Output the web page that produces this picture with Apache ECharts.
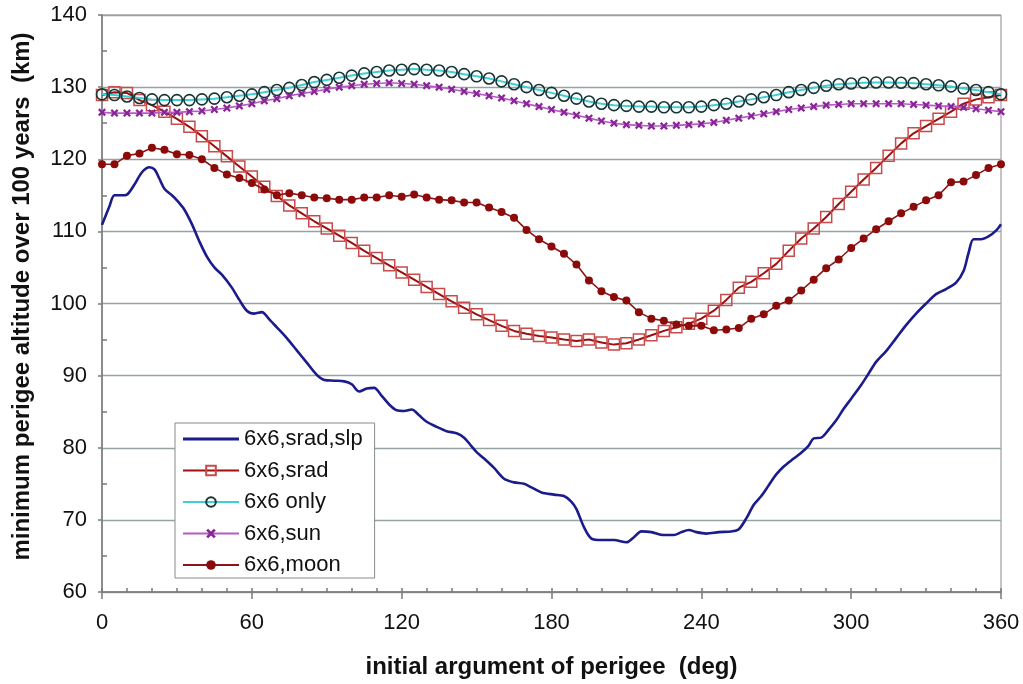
<!DOCTYPE html>
<html>
<head>
<meta charset="utf-8">
<script src="https://cdn.jsdelivr.net/npm/echarts@6/dist/echarts.min.js"></script>
<style>
html,body{margin:0;padding:0;background:#fff;}
#chart{width:1023px;height:684px;}
</style>
</head>
<body>
<div id="chart"></div>
<script>
// x positions (deg) for the marker series
const degrees = [0,5,10,15,20,25,30,35,40,45,50,55,60,65,70,75,80,85,90,95,100,105,110,115,120,125,130,135,140,145,150,155,160,165,170,175,180,185,190,195,200,205,210,215,220,225,230,235,240,245,250,255,260,265,270,275,280,285,290,295,300,305,310,315,320,325,330,335,340,345,350,355,360];

const sradVals = [128.9,129.3,129.2,128.2,127.5,126.6,125.6,124.5,123.2,121.8,120.4,119.0,117.6,116.2,114.9,113.6,112.5,111.4,110.4,109.4,108.4,107.3,106.3,105.3,104.3,103.3,102.3,101.3,100.3,99.4,98.5,97.7,96.9,96.2,95.8,95.5,95.3,95.0,94.8,95.0,94.6,94.3,94.5,95.0,95.6,96.2,96.7,97.2,97.9,99.0,100.5,102.2,103.0,104.2,105.5,107.3,109.0,110.4,112.0,113.8,115.5,117.2,118.8,120.5,122.2,123.6,124.6,125.6,126.6,127.7,128.3,128.6,128.9];

const onlyVals = [129.0,128.9,128.7,128.5,128.3,128.2,128.2,128.2,128.3,128.4,128.6,128.8,129.0,129.3,129.6,129.9,130.3,130.7,131.0,131.3,131.6,131.9,132.1,132.3,132.4,132.5,132.4,132.3,132.1,131.8,131.5,131.2,130.8,130.4,130.0,129.6,129.2,128.8,128.4,128.0,127.7,127.5,127.4,127.3,127.3,127.2,127.2,127.2,127.3,127.5,127.7,128.0,128.3,128.6,128.9,129.3,129.6,129.9,130.2,130.4,130.5,130.6,130.65,130.65,130.6,130.55,130.4,130.25,130.1,129.8,129.6,129.3,129.0];

const sunVals = [126.5,126.4,126.4,126.4,126.4,126.5,126.5,126.6,126.7,126.9,127.1,127.4,127.7,128.1,128.4,128.8,129.1,129.4,129.7,130.0,130.2,130.4,130.5,130.6,130.5,130.4,130.2,130.0,129.7,129.4,129.1,128.8,128.5,128.1,127.7,127.3,126.9,126.5,126.1,125.7,125.3,125.0,124.8,124.7,124.6,124.6,124.7,124.8,124.9,125.1,125.4,125.7,126.0,126.3,126.6,126.9,127.1,127.3,127.5,127.6,127.7,127.7,127.7,127.7,127.7,127.6,127.5,127.4,127.3,127.2,127.0,126.8,126.6];

const moonVals = [119.3,119.3,120.5,120.8,121.6,121.3,120.7,120.6,120.0,118.8,117.9,117.4,116.7,115.8,115.0,115.3,115.0,114.7,114.6,114.4,114.4,114.7,114.7,115.0,114.8,115.1,114.7,114.4,114.3,114.0,114.0,113.3,112.7,111.9,110.2,108.9,107.9,106.9,105.4,103.2,101.7,100.9,100.4,98.8,97.9,97.6,97.1,96.9,96.9,96.3,96.4,96.6,97.9,98.5,99.7,100.4,101.8,103.3,104.9,106.1,107.7,109.0,110.3,111.4,112.5,113.4,114.3,115.0,116.8,116.9,117.8,118.8,119.3];

// "6x6,srad,slp" curve, read at irregular angles
const slpDeg = [0,3,5,8,10,13,16,19,21,23,25,28,30,33,36,39,42,45,48,52,55,58,61,64,67,70,74,78,82,86,89,93,97,100,103,106,109,112,115,118,121,124,127,130,134,138,142,145,148,150,153,157,161,165,169,172,176,181,185,188,190,193,196,200,205,210,213,216,220,225,229,232,235,238,242,247,252,255,258,261,264,267,270,273,277,280,283,285,288,291,294,297,300,304,307,310,314,318,322,326,330,334,338,342,345,347,349,352,355,358,360];
const slpVals = [110.9,113.5,115.0,115.0,115.1,116.5,118.2,118.9,118.6,117.3,115.9,115.0,114.3,113.0,111.0,108.6,106.5,105.0,104.0,102.2,100.5,99.0,98.6,98.8,97.8,96.7,95.2,93.5,91.8,90.1,89.4,89.3,89.2,88.8,87.8,88.2,88.3,87.2,86.0,85.2,85.1,85.3,84.5,83.6,82.9,82.3,82.0,81.4,80.2,79.4,78.5,77.2,75.7,75.2,75.0,74.5,73.8,73.5,73.3,72.5,71.5,69.0,67.4,67.2,67.2,66.9,67.6,68.4,68.3,67.9,67.9,68.3,68.6,68.3,68.1,68.3,68.4,68.7,70.2,72.1,73.3,74.8,76.3,77.4,78.5,79.3,80.3,81.3,81.4,82.5,83.8,85.4,86.8,88.7,90.3,91.9,93.4,95.2,97.0,98.6,100.0,101.3,102.0,102.9,104.5,107.0,108.9,108.9,109.3,110.1,111.0];

const seriesNames = ['6x6,srad,slp','6x6,srad','6x6 only','6x6,sun','6x6,moon'];
const xTickValues = [0,60,120,180,240,300,360];
const yTickValues = [60,70,80,90,100,110,120,130,140];

function pairs(xs, ys){ return xs.map((x,i)=>[x, ys[i]]); }

const FONT = '"Liberation Sans", Arial, sans-serif';
const xMark = 'path://M0,2 L2,0 L5,3 L8,0 L10,2 L7,5 L10,8 L8,10 L5,7 L2,10 L0,8 L3,5 Z';
// plain line legend icon (bounding box 56x12, bar in the middle)
const lineIcon = 'path://M0,0 L0.01,0 L0.01,0.01 Z M0,4.6 L56,4.6 L56,7.4 L0,7.4 Z M0,12 L0.01,12 L0.01,11.99 Z';

const chart = echarts.init(document.getElementById('chart'), null, {renderer:'canvas'});
chart.setOption({
  animation:false,
  backgroundColor:'#ffffff',
  textStyle:{fontFamily:FONT},
  grid:{left:102,right:22,top:15,bottom:90,show:true,borderColor:'#8a8a8a',borderWidth:1,backgroundColor:'transparent'},
  legend:{
    orient:'vertical',left:175,top:423,
    backgroundColor:'#ffffff',borderColor:'#8a8a8a',borderWidth:1,
    padding:[4,12,1,7],
    itemWidth:56,itemHeight:12,itemGap:7.5,
    textStyle:{fontFamily:FONT,fontSize:22,lineHeight:24,color:'#111'},
    data:[{name:seriesNames[0],icon:lineIcon},seriesNames[1],seriesNames[2],seriesNames[3],seriesNames[4]]
  },
  xAxis:[{
    type:'value',min:xTickValues[0],max:xTickValues[xTickValues.length-1],interval:60,
    position:'bottom',
    axisLine:{show:true,lineStyle:{color:'#7a7a7a',width:1.5}},
    axisTick:{show:true,inside:false,length:7,lineStyle:{color:'#7a7a7a',width:1.5}},
    axisLabel:{fontFamily:FONT,fontSize:22,color:'#111',margin:20},
    splitLine:{show:false},
    name:'initial argument of perigee  (deg)',nameLocation:'middle',nameGap:63,
    nameTextStyle:{fontFamily:FONT,fontSize:24,fontWeight:'bold',color:'#111'}
  },{
    type:'value',min:0,max:360,interval:10,position:'bottom',
    axisLine:{show:false},
    axisTick:{show:true,inside:true,length:4,lineStyle:{color:'#7a7a7a',width:1.5}},
    axisLabel:{show:false},splitLine:{show:false}
  }],
  yAxis:[{
    type:'value',min:yTickValues[0],max:yTickValues[yTickValues.length-1],interval:10,
    position:'left',
    axisLine:{show:true,lineStyle:{color:'#7a7a7a',width:1.5}},
    axisTick:{show:true,inside:false,length:4,lineStyle:{color:'#7a7a7a',width:1.5}},
    axisLabel:{fontFamily:FONT,fontSize:22,color:'#111',margin:15},
    splitLine:{show:true,lineStyle:{color:'#94a3a3',width:1.3}},
    name:'minimum perigee altitude over 100 years  (km)',nameLocation:'middle',nameGap:68,
    nameTextStyle:{fontFamily:FONT,fontSize:24,fontWeight:'bold',color:'#111',padding:[0,0,0,14]}
  },{
    type:'value',min:60,max:140,interval:10,position:'left',
    axisLine:{show:false},
    axisTick:{show:false,inside:true},
    minorTick:{show:true,splitNumber:2,length:5,lineStyle:{color:'#7a7a7a',width:1.5}},
    axisLabel:{show:false},splitLine:{show:false}
  }],
  series:[
    {
      name:seriesNames[0],type:'line',data:pairs(slpDeg,slpVals),
      symbol:'none',smooth:0.3,
      lineStyle:{color:'#1b1b8c',width:2.6},itemStyle:{color:'#1b1b8c'},z:2
    },
    {
      name:seriesNames[1],type:'line',data:pairs(degrees,sradVals),
      symbol:'rect',symbolSize:11,showAllSymbol:true,
      lineStyle:{color:'#9e0e0e',width:2},
      itemStyle:{color:'rgba(255,255,255,0)',borderColor:'#c84a4a',borderWidth:1.5},z:3
    },
    {
      name:seriesNames[2],type:'line',data:pairs(degrees,onlyVals),
      symbol:'circle',symbolSize:11,showAllSymbol:true,
      lineStyle:{color:'#3fd0d6',width:2},
      itemStyle:{color:'rgba(255,255,255,0)',borderColor:'#173434',borderWidth:1.6},z:4
    },
    {
      name:seriesNames[3],type:'line',data:pairs(degrees,sunVals),
      symbol:xMark,symbolSize:8,showAllSymbol:true,
      lineStyle:{color:'#b45cc4',width:1.6},
      itemStyle:{color:'#8a2598'},z:4
    },
    {
      name:seriesNames[4],type:'line',data:pairs(degrees,moonVals),
      symbol:'circle',symbolSize:8,showAllSymbol:true,
      lineStyle:{color:'#8e1515',width:1.6},
      itemStyle:{color:'#8b0a0a'},z:5
    }
  ]
});
</script>
</body>
</html>
